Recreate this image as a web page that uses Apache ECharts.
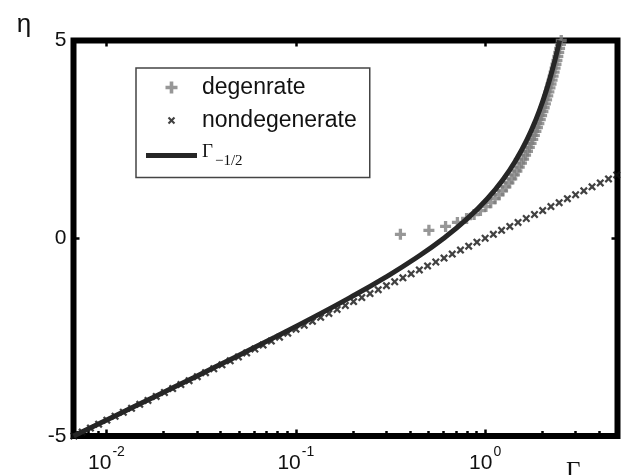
<!DOCTYPE html>
<html><head><meta charset="utf-8">
<script src="https://cdn.jsdelivr.net/npm/echarts@6/dist/echarts.min.js"></script>
<style>html,body{margin:0;padding:0;background:#fff}#c{width:622px;height:475px}</style>
</head><body><div id="c"></div>
<script>
// degenerate points: eta and Gamma
const degEta = [0.1,0.2,0.3,0.4,0.5,0.6,0.7,0.8,0.9,1.0,1.1,1.2,1.3,1.4,1.5,1.6,1.7,1.8,1.9,2.0,2.1,2.2,2.3,2.4,2.5,2.6,2.7,2.8,2.9,3.0,3.1,3.2,3.3,3.4,3.5,3.6,3.7,3.8,3.9,4.0,4.1,4.2,4.3,4.4,4.5,4.6,4.7,4.8,4.9,5.0];
const degGamma = [0.35682,0.50463,0.61804,0.71365,0.79788,0.87404,0.94407,1.00925,1.07047,1.12838,1.18345,1.23608,1.28655,1.33511,1.38198,1.42730,1.47123,1.51388,1.55537,1.59577,1.63518,1.67366,1.71127,1.74808,1.78412,1.81946,1.85412,1.88814,1.92156,1.95441,1.98672,2.01851,2.04980,2.08063,2.11101,2.14095,2.17048,2.19962,2.22837,2.25676,2.28479,2.31249,2.33986,2.36691,2.39366,2.42011,2.44627,2.47216,2.49778,2.52313];
// nondegenerate points
const nondegEta = [-5.0,-4.9,-4.8,-4.7,-4.6,-4.5,-4.4,-4.3,-4.2,-4.1,-4.0,-3.9,-3.8,-3.7,-3.6,-3.5,-3.4,-3.3,-3.2,-3.1,-3.0,-2.9,-2.8,-2.7,-2.6,-2.5,-2.4,-2.3,-2.2,-2.1,-2.0,-1.9,-1.8,-1.7,-1.6,-1.5,-1.4,-1.3,-1.2,-1.1,-1.0,-0.9,-0.8,-0.7,-0.6,-0.5,-0.4,-0.3,-0.2,-0.1,0.0,0.1,0.2,0.3,0.4,0.5,0.6,0.7,0.8,0.9,1.0,1.1,1.2,1.3,1.4,1.5,1.6];
const nondegGamma = [0.006738,0.007447,0.008230,0.009095,0.010052,0.011109,0.012277,0.013569,0.014996,0.016573,0.018316,0.020242,0.022371,0.024724,0.027324,0.030197,0.033373,0.036883,0.040762,0.045049,0.049787,0.055023,0.060810,0.067206,0.074274,0.082085,0.090718,0.100259,0.110803,0.122456,0.135335,0.149569,0.165299,0.182684,0.201897,0.223130,0.246597,0.272532,0.301194,0.332871,0.367879,0.406570,0.449329,0.496585,0.548812,0.606531,0.670320,0.740818,0.818731,0.904837,1.0,1.105171,1.221403,1.349859,1.491825,1.648721,1.822119,2.013753,2.225541,2.459603,2.718282,3.004166,3.320117,3.669297,4.055200,4.481689,4.953032];
// Gamma_{-1/2} curve
const fdEta = [-5,-4.5,-4,-3.5,-3,-2.5,-2,-1.5,-1,-0.5,0,0.5,1,1.5,2,2.5,3,3.5,4,4.5,5];
const fdGamma = [0.006706,0.011023,0.018082,0.029568,0.048102,0.077619,0.123665,0.193305,0.294028,0.43123,0.604899,0.807747,1.027051,1.249328,1.464323,1.666302,1.853374,2.026187,2.186159,2.334477,2.47258];
// axis ticks
const xMin = 0.0067, xMax = 5;
const xMajorTicks = [0.01, 0.1, 1];
const xMajorExp = ['-2', '-1', '0'];
const xMinorTicks = [0.007,0.008,0.009,0.02,0.03,0.04,0.05,0.06,0.07,0.08,0.09,0.2,0.3,0.4,0.5,0.6,0.7,0.8,0.9,2,3,4];
const yTicks = [-5, 0, 5];
const names = ['degenrate', 'nondegenerate', 'Γ_{-1/2}'];

const plusPath = 'path://M3.5,0 L6.5,0 L6.5,3.5 L10,3.5 L10,6.5 L6.5,6.5 L6.5,10 L3.5,10 L3.5,6.5 L0,6.5 L0,3.5 L3.5,3.5 Z';
const xPath = 'path://M0,2 L2,0 L5,3 L8,0 L10,2 L7,5 L10,8 L8,10 L5,7 L2,10 L0,8 L3,5 Z';
const xLegendPath = 'path://M-3,-3 L-3,-3.01 M13,13 L13,13.01 M0,2 L2,0 L5,3 L8,0 L10,2 L7,5 L10,8 L8,10 L5,7 L2,10 L0,8 L3,5 Z';
const lineLegendPath = 'path://M0,0 L51,0 L51,5 L0,5 Z';

const zip = (g, e) => g.map((v, i) => [v, e[i]]);
const sans = 'Liberation Sans, Arial, sans-serif';
const serif = 'Liberation Serif, Times New Roman, serif';

function xLabel(v) {
  for (let i = 0; i < xMajorTicks.length; i++) {
    if (Math.abs(Math.log10(v) - Math.log10(xMajorTicks[i])) < 1e-6) return '{b|10}{s|' + xMajorExp[i] + '}';
  }
  return '';
}

const chart = echarts.init(document.getElementById('c'), null, {renderer: 'canvas'});
chart.setOption({
  animation: false,
  backgroundColor: '#fff',
  grid: { left: 73.5, right: 4.5, top: 40.5, bottom: 39, outerBoundsMode: 'none', containLabel: false,
          show: true, borderColor: '#000', borderWidth: 6, backgroundColor: 'transparent' },
  xAxis: [
    { type: 'log', position: 'bottom', min: xMin, max: xMax, logBase: 10,
      name: 'Γ', nameLocation: 'end', nameGap: -51.5, nameMoveOverlap: false,
      nameTextStyle: { fontFamily: serif, fontSize: 25, color: '#111', verticalAlign: 'top', lineHeight: 72 },
      axisLine: { show: false, onZero: false }, splitLine: { show: false },
      axisTick: { show: true, inside: true, length: 6.5, customValues: xMajorTicks, lineStyle: { color: '#000', width: 2.5 } },
      axisLabel: { customValues: xMajorTicks, margin: 9, formatter: xLabel, color: '#111',
        rich: { b: { fontFamily: sans, fontSize: 21, lineHeight: 29, verticalAlign: 'bottom', color: '#111' },
                s: { fontFamily: sans, fontSize: 14, lineHeight: 14, verticalAlign: 'top', padding: [0, 0, 0, 1], color: '#111' } } } },
    { type: 'log', position: 'bottom', min: xMin, max: xMax, logBase: 10,
      axisLine: { show: false, onZero: false }, splitLine: { show: false }, axisLabel: { show: false },
      axisTick: { show: true, inside: true, length: 5, customValues: xMinorTicks, lineStyle: { color: '#000', width: 2.5 } } },
    { type: 'log', position: 'top', min: xMin, max: xMax, logBase: 10,
      axisLine: { show: false, onZero: false }, splitLine: { show: false }, axisLabel: { show: false },
      axisTick: { show: true, inside: true, length: 6, customValues: xMajorTicks, lineStyle: { color: '#000', width: 2.5 } } }
  ],
  yAxis: [
    { type: 'value', position: 'left', min: -5, max: 5, interval: 5,
      name: 'η', nameLocation: 'end', nameGap: 3,
      nameTextStyle: { fontFamily: sans, fontSize: 26, color: '#111', padding: [0, 99, 0, 0] },
      axisLine: { show: false, onZero: false }, splitLine: { show: false },
      axisTick: { show: true, inside: true, length: 6, lineStyle: { color: '#000', width: 2.5 } },
      axisLabel: { customValues: yTicks, margin: 7, fontFamily: sans, fontSize: 21, color: '#111' } },
    { type: 'value', position: 'right', min: -5, max: 5, interval: 5,
      axisLine: { show: false, onZero: false }, splitLine: { show: false }, axisLabel: { show: false },
      axisTick: { show: true, inside: true, length: 6, lineStyle: { color: '#000', width: 2.5 } } }
  ],
  legend: {
    orient: 'vertical', left: 136, top: 68, selectedMode: false,
    padding: [8, 13, 8.5, 10], itemWidth: 51, itemHeight: 12, itemGap: 10,
    borderColor: '#444', borderWidth: 1.5, backgroundColor: '#fff',
    textStyle: { fontFamily: sans, fontSize: 23, color: '#111',
      rich: { g: { fontFamily: serif, fontSize: 19, lineHeight: 31, verticalAlign: 'middle', padding: [0, 0, 6, 0], color: '#111' },
              s: { fontFamily: serif, fontSize: 15, lineHeight: 15, color: '#111', verticalAlign: 'middle', padding: [12, 0, 0, 2] } } },
    formatter: n => n === names[2] ? '{g|Γ}{s|−1/2}' : n,
    data: [ { name: names[0], icon: plusPath }, { name: names[1], icon: xLegendPath }, { name: names[2], icon: lineLegendPath } ]
  },
  series: [
    { name: names[0], type: 'scatter', data: zip(degGamma, degEta), symbol: plusPath, symbolSize: 11,
      itemStyle: { color: '#7d7d7d' }, z: 2, clip: false },
    { name: names[1], type: 'scatter', data: zip(nondegGamma, nondegEta), symbol: xPath, symbolSize: 8,
      itemStyle: { color: '#111' }, z: 3, clip: false },
    { name: names[2], type: 'line', data: zip(fdGamma, fdEta), smooth: true, showSymbol: false, symbol: 'none',
      lineStyle: { color: '#262626', width: 5 }, itemStyle: { color: '#262626' }, z: 4 }
  ]
});
</script></body></html>
